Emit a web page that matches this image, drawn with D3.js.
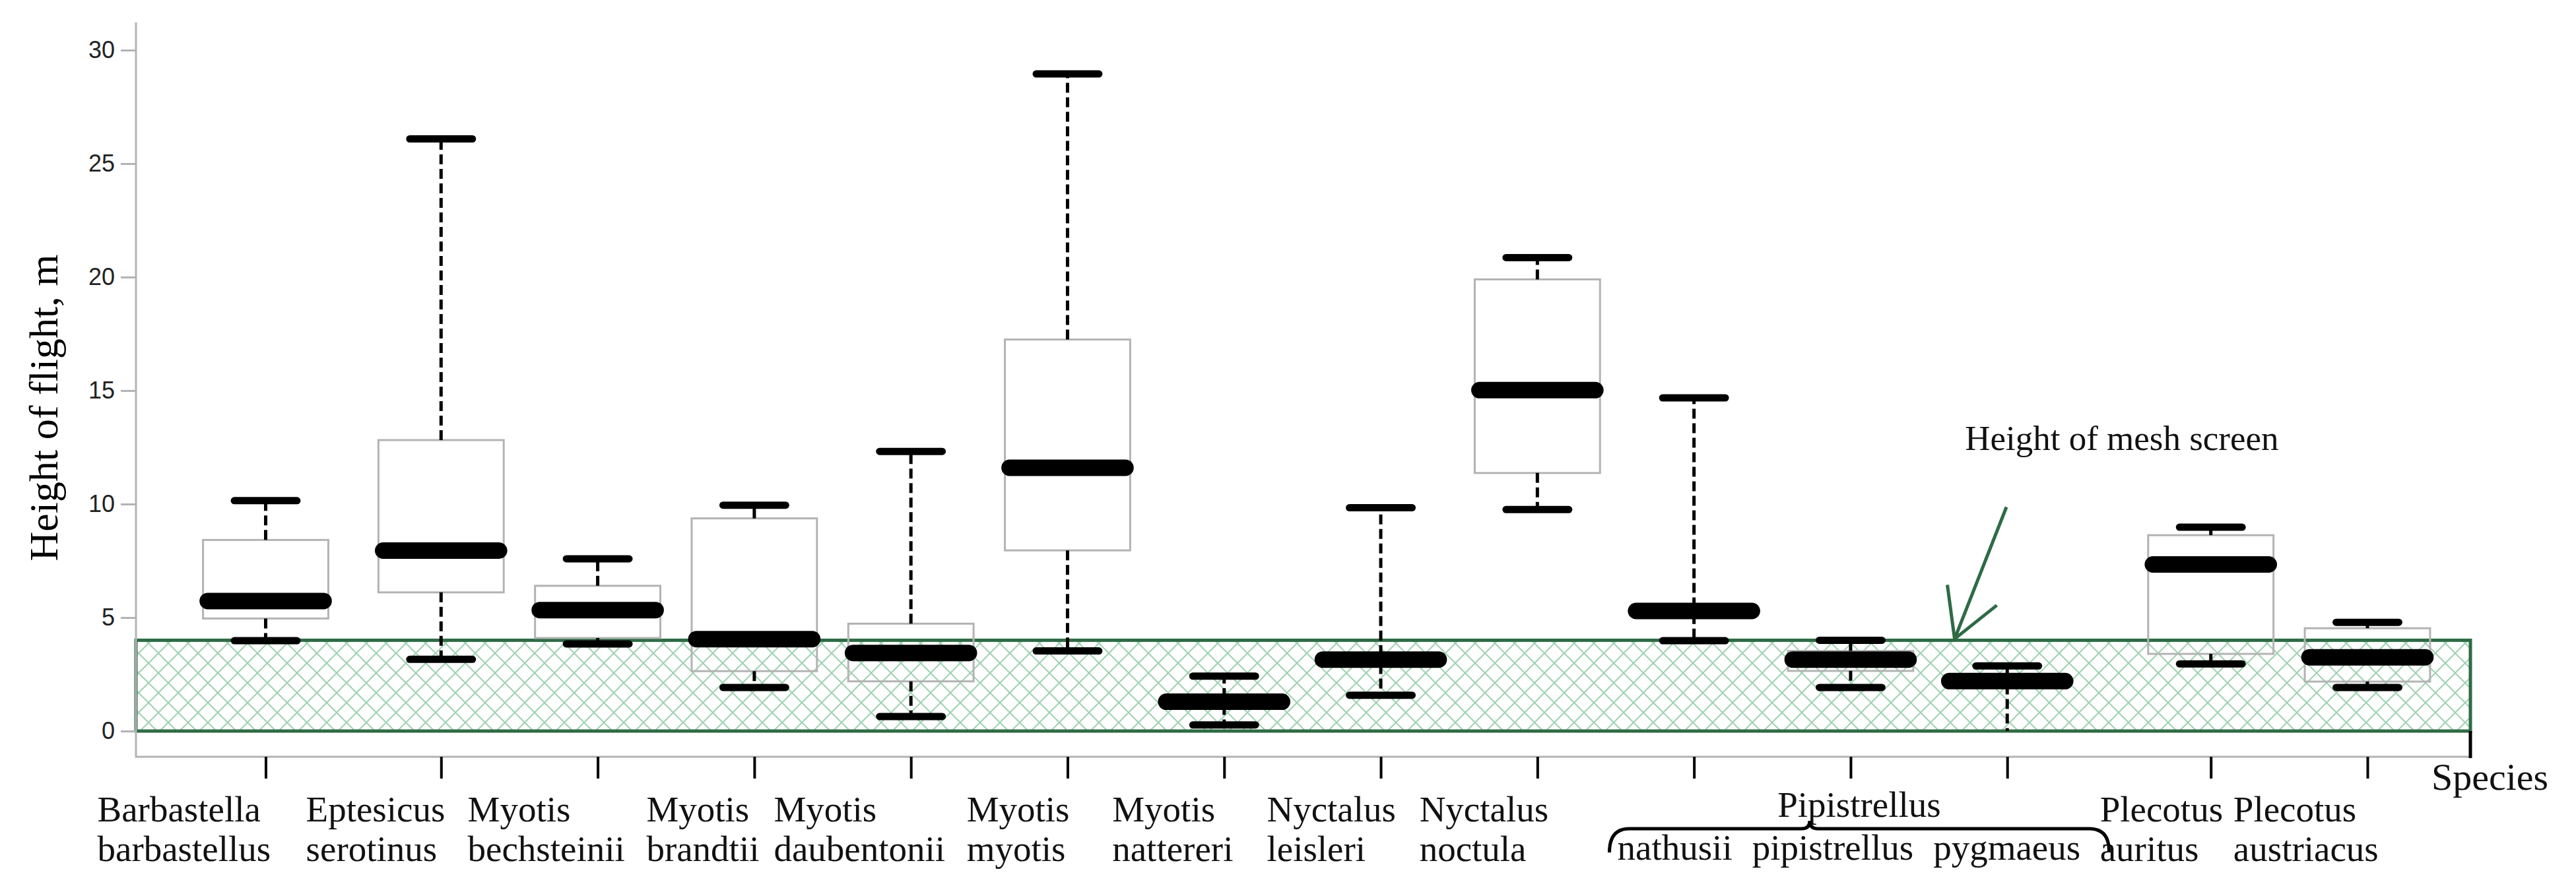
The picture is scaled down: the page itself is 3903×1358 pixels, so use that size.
<!DOCTYPE html>
<html>
<head>
<meta charset="utf-8">
<script src="https://cdn.jsdelivr.net/npm/d3@7"></script>
<style>
  body { margin: 0; background: #fff; }
  svg { display: block; }
</style>
</head>
<body>
<svg id="chart" width="3903" height="1358"></svg>
<script>
// species (two-line labels) and flight-height summaries, m
const genus = ['Barbastella', 'Eptesicus', 'Myotis', 'Myotis', 'Myotis', 'Myotis', 'Myotis',
  'Nyctalus', 'Nyctalus', 'Pipistrellus', 'Pipistrellus', 'Pipistrellus', 'Plecotus', 'Plecotus'];
const epithet = ['barbastellus', 'serotinus', 'bechsteinii', 'brandtii', 'daubentonii', 'myotis', 'nattereri',
  'leisleri', 'noctula', 'nathusii', 'pipistrellus', 'pygmaeus', 'auritus', 'austriacus'];

const whiskerLow  = [3.98, 3.16, 3.84, 1.92, 0.64, 3.53, 0.27, 1.58, 9.76, 3.98, 1.92, 0.00, 2.96, 1.92];
const q1          = [4.96, 6.11, 4.10, 2.64, 2.19, 7.96, 1.15, 2.95, 11.37, 5.15, 2.65, 2.05, 3.40, 2.18];
const median      = [5.73, 7.95, 5.33, 4.05, 3.44, 11.60, 1.29, 3.15, 15.02, 5.29, 3.15, 2.20, 7.34, 3.25];
const q3          = [8.42, 12.82, 6.40, 9.37, 4.73, 17.25, 1.45, 3.35, 19.90, 5.45, 3.53, 2.35, 8.63, 4.53];
const whiskerHigh = [10.15, 26.09, 7.59, 9.95, 12.32, 28.95, 2.42, 9.84, 20.86, 14.68, 4.00, 2.87, 8.98, 4.79];

const yTicks = [0, 5, 10, 15, 20, 25, 30];
const meshHeight = 4;

const svg = d3.select('#chart');
const serif = '"Liberation Serif", "Times New Roman", serif';
const plotLeft = 206, plotRight = 3743, axisY = 1147;

// spacing is not quite regular: first box sits a bit left, Plecotus after a wider gap
const slot = i => i + (i === 0 ? -0.12 : 0) + (genus[i] === 'Plecotus' ? 0.3 : 0);

const x = d3.scaleLinear().domain([0, 13.3]).range([431, 3587]);
const y = d3.scaleLinear().domain([0, 30]).range([1108, 76]);

const boxHalf = 0.4, medHalf = 0.37, capHalf = 0.2;

// hatch pattern for the mesh screen
const defs = svg.append('defs');
const pat = defs.append('pattern')
    .attr('id', 'mesh')
    .attr('patternUnits', 'userSpaceOnUse')
    .attr('width', 30).attr('height', 30);
pat.append('path')
    .attr('d', 'M0,0L30,30M30,0L0,30M-3,27L3,33M27,-3L33,3M-3,3L3,-3M27,33L33,27')
    .attr('stroke', '#9fd2b3')
    .attr('stroke-width', 2)
    .attr('fill', 'none');

// mesh screen band
svg.append('rect')
    .attr('x', plotLeft)
    .attr('y', y(meshHeight))
    .attr('width', plotRight - plotLeft)
    .attr('height', y(0) - y(meshHeight))
    .attr('fill', 'url(#mesh)')
    .attr('stroke', '#2e6b45')
    .attr('stroke-width', 5);

// frame
svg.append('path')
    .attr('d', `M${plotLeft},34V${axisY}H${plotRight}`)
    .attr('fill', 'none')
    .attr('stroke', '#b3b3b3')
    .attr('stroke-width', 3);
svg.append('line')
    .attr('x1', plotRight).attr('x2', plotRight)
    .attr('y1', y(0)).attr('y2', axisY + 2)
    .attr('stroke', '#000')
    .attr('stroke-width', 5);

// y axis
const yAxis = svg.append('g')
    .attr('transform', `translate(${plotLeft},0)`)
    .call(d3.axisLeft(y).tickValues(yTicks).tickSize(23).tickPadding(9));
yAxis.select('.domain').remove();
yAxis.selectAll('line').attr('stroke', '#b3b3b3').attr('stroke-width', 3);
yAxis.selectAll('text')
    .attr('font-family', '"Liberation Sans", Arial, sans-serif')
    .attr('font-size', 36)
    .attr('fill', '#222');

svg.append('text')
    .attr('transform', 'translate(87,618) rotate(-90)')
    .attr('text-anchor', 'middle')
    .attr('font-family', serif)
    .attr('font-size', 62)
    .text('Height of flight, m');

// x axis ticks
const idx = d3.range(genus.length);
const xAxis = svg.append('g')
    .attr('transform', `translate(0,${axisY})`)
    .call(d3.axisBottom(x).tickValues(idx.map(slot)).tickSize(33).tickFormat(''));
xAxis.select('.domain').remove();
xAxis.selectAll('line').attr('stroke', '#000').attr('stroke-width', 4);

// boxes
const g = svg.append('g');
const cx = i => x(slot(i));
const u = x(1) - x(0);

g.selectAll('rect.box').data(idx).join('rect')
    .attr('class', 'box')
    .attr('x', i => cx(i) - boxHalf * u)
    .attr('y', i => y(q3[i]))
    .attr('width', 2 * boxHalf * u)
    .attr('height', i => y(q1[i]) - y(q3[i]))
    .attr('fill', 'none')
    .attr('stroke', '#b3b3b3')
    .attr('stroke-width', 3);

// whiskers
const whiskers = idx.flatMap(i => [[i, q3[i], whiskerHigh[i]], [i, q1[i], whiskerLow[i]]]);
g.selectAll('line.whisker').data(whiskers).join('line')
    .attr('class', 'whisker')
    .attr('x1', d => cx(d[0])).attr('x2', d => cx(d[0]))
    .attr('y1', d => y(d[1])).attr('y2', d => y(d[2]))
    .attr('stroke', '#000')
    .attr('stroke-width', 5)
    .attr('stroke-dasharray', '15,7');

// whisker caps (no cap drawn at ground level)
const caps = idx.flatMap(i => [[i, whiskerHigh[i]], [i, whiskerLow[i]]]).filter(d => d[1] > 0);
g.selectAll('line.cap').data(caps).join('line')
    .attr('class', 'cap')
    .attr('x1', d => cx(d[0]) - capHalf * u).attr('x2', d => cx(d[0]) + capHalf * u)
    .attr('y1', d => y(d[1])).attr('y2', d => y(d[1]))
    .attr('stroke', '#000')
    .attr('stroke-width', 11)
    .attr('stroke-linecap', 'round');

// medians
g.selectAll('line.median').data(idx).join('line')
    .attr('class', 'median')
    .attr('x1', i => cx(i) - medHalf * u).attr('x2', i => cx(i) + medHalf * u)
    .attr('y1', i => y(median[i])).attr('y2', i => y(median[i]))
    .attr('stroke', '#000')
    .attr('stroke-width', 25)
    .attr('stroke-linecap', 'round');

// category labels
const labels = svg.append('g')
    .attr('font-family', serif)
    .attr('font-size', 55)
    .attr('fill', '#111');

idx.filter(i => genus[i] !== 'Pipistrellus').forEach(i => {
  const t = labels.append('text');
  t.append('tspan').attr('y', 1245).text(genus[i]);
  t.append('tspan').attr('y', 1305).text(epithet[i]);
  const w = t.node().getBBox().width;
  t.selectAll('tspan').attr('x', cx(i) - w / 2);
});

// Pipistrellus group with brace
const pip = idx.filter(i => genus[i] === 'Pipistrellus');
const bL = cx(pip[0]) - 0.54 * u, bR = cx(pip[pip.length - 1]) + 0.65 * u;

const row = labels.append('text').attr('x', bL + 12).attr('y', 1303);
row.selectAll('tspan').data(pip).join('tspan')
    .attr('dx', (d, k) => k === 0 ? 0 : 30)
    .text(i => epithet[i]);

const bMid = (bL + bR) / 2 - 75, bTop = 1256;
svg.append('path')
    .attr('d', `M${bL},1292 Q${bL},${bTop} ${bL + 30},${bTop} H${bMid - 12} Q${bMid},${bTop} ${bMid},${bTop - 12} Q${bMid},${bTop} ${bMid + 12},${bTop} H${bR - 30} Q${bR},${bTop} ${bR},1290`)
    .attr('fill', 'none')
    .attr('stroke', '#000')
    .attr('stroke-width', 5);
labels.append('text')
    .attr('x', (bL + bR) / 2)
    .attr('y', 1238)
    .attr('text-anchor', 'middle')
    .text('Pipistrellus');

labels.append('text')
    .attr('x', 3684)
    .attr('y', 1197)
    .attr('font-size', 58)
    .text('Species');

// annotation arrow
const tipX = x(10.664), tipY = y(meshHeight) - 2;
svg.append('path')
    .attr('d', `M${x(10.995)},${y(9.87)}L${tipX},${tipY}M${tipX - 11},${tipY - 82}L${tipX},${tipY}L${tipX + 64},${tipY - 51}`)
    .attr('fill', 'none')
    .attr('stroke', '#2e6b45')
    .attr('stroke-width', 5);

svg.append('text')
    .attr('x', x(10.73))
    .attr('y', y(12.38))
    .attr('font-family', serif)
    .attr('font-size', 53)
    .attr('fill', '#111')
    .text('Height of mesh screen');
</script>
</body>
</html>
